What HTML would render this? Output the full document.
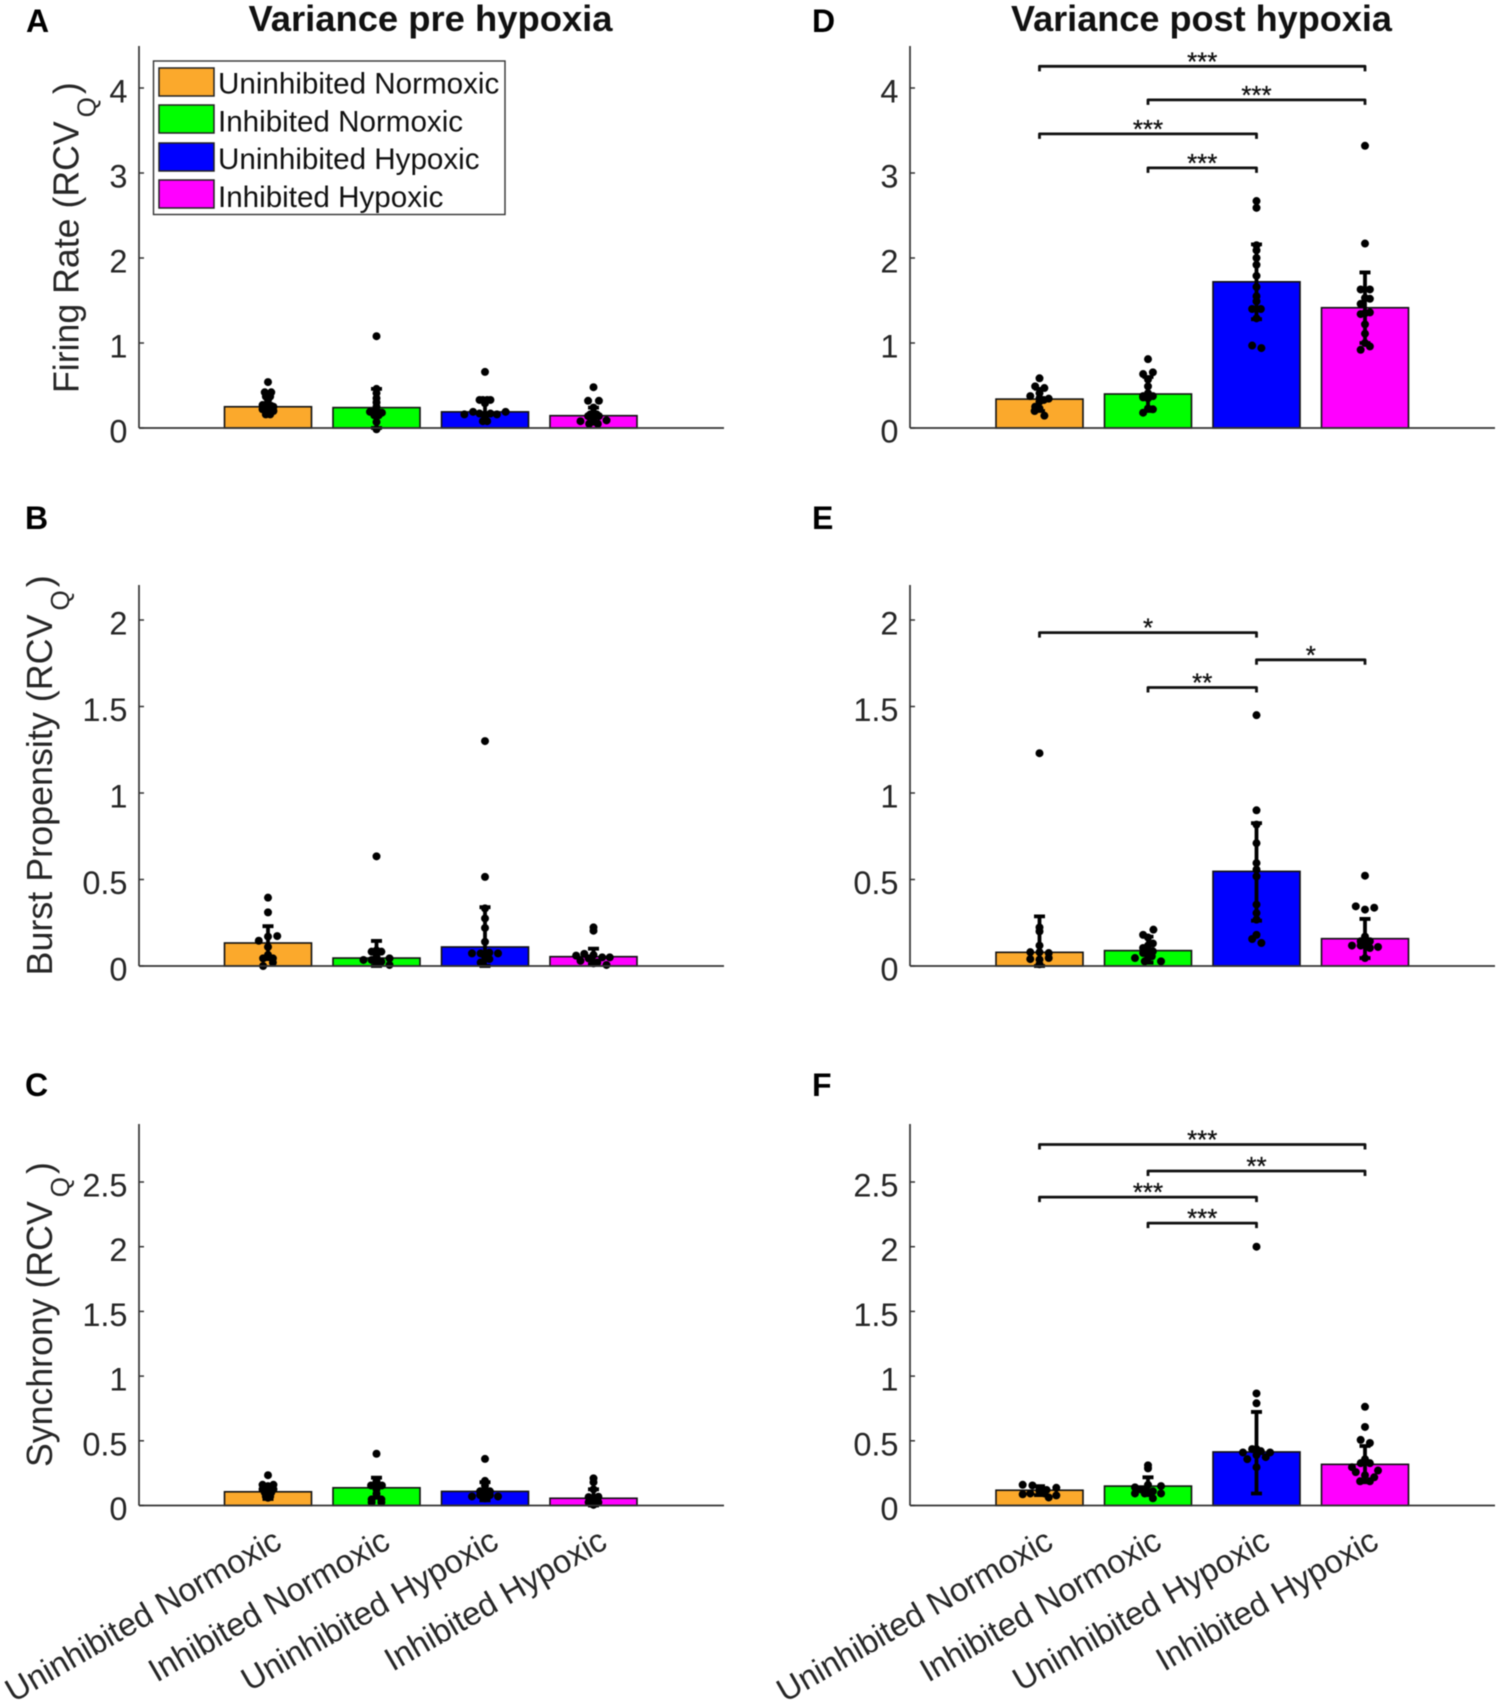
<!DOCTYPE html>
<html lang="en">
<head>
<meta charset="utf-8">
<title>Variance pre and post hypoxia</title>
<style>
html,body{margin:0;padding:0;background:#fff;}
svg{display:block;font-family:"Liberation Sans",Arial,sans-serif;filter:blur(0.4px);}
</style>
</head>
<body>
<svg id="figure" xmlns="http://www.w3.org/2000/svg" width="1500" height="1703" viewBox="0 0 1500 1703">
  <rect x="0" y="0" width="1500" height="1703" fill="#ffffff"/>
  <text x="430.5" y="31" font-size="36.4" font-weight="bold" text-anchor="middle" fill="#111">Variance pre hypoxia</text>
  <text x="1201.5" y="31" font-size="36.1" font-weight="bold" text-anchor="middle" fill="#111">Variance post hypoxia</text>
  <text x="26" y="32" font-size="32" font-weight="bold" fill="#000">A</text>
  <text x="25" y="529" font-size="32" font-weight="bold" fill="#000">B</text>
  <text x="25" y="1096" font-size="32" font-weight="bold" fill="#000">C</text>
  <text x="812" y="32" font-size="32" font-weight="bold" fill="#000">D</text>
  <text x="812" y="529" font-size="32" font-weight="bold" fill="#000">E</text>
  <text x="812" y="1096" font-size="32" font-weight="bold" fill="#000">F</text>
  <text transform="translate(78.5 393) rotate(-90)" font-size="35.7" fill="#262626">Firing Rate (RCV<tspan font-size="26" dx="4" dy="17">Q</tspan><tspan dx="3" dy="-17">)</tspan></text>
  <text transform="translate(52 975.5) rotate(-90)" font-size="35.9" fill="#262626">Burst Propensity (RCV<tspan font-size="26" dx="4" dy="17">Q</tspan><tspan dx="3" dy="-17">)</tspan></text>
  <text transform="translate(52 1467) rotate(-90)" font-size="35.7" fill="#262626">Synchrony (RCV<tspan font-size="26" dx="4" dy="17">Q</tspan><tspan dx="3" dy="-17">)</tspan></text>
  <g id="plots"></g>
  <g>
    <rect x="153.5" y="61" width="351.5" height="153.5" fill="#fff" stroke="#333" stroke-width="1.4"/>
    <rect x="159" y="68" width="55" height="28" fill="#FBA92C" stroke="#222" stroke-width="1.5"/>
    <text x="218" y="93.5" font-size="29.6" fill="#111">Uninhibited Normoxic</text>
    <rect x="159" y="105" width="55" height="28" fill="#00FF00" stroke="#222" stroke-width="1.5"/>
    <text x="218" y="131.5" font-size="29.6" fill="#111">Inhibited Normoxic</text>
    <rect x="159" y="143" width="55" height="28" fill="#0000FF" stroke="#222" stroke-width="1.5"/>
    <text x="218" y="168.8" font-size="29.6" fill="#111">Uninhibited Hypoxic</text>
    <rect x="159" y="180" width="55" height="28" fill="#FF00FF" stroke="#222" stroke-width="1.5"/>
    <text x="218" y="206.8" font-size="29.6" fill="#111">Inhibited Hypoxic</text>
  </g>
</svg>
<script>
// Shared categories
const categories = ["Uninhibited Normoxic", "Inhibited Normoxic", "Uninhibited Hypoxic", "Inhibited Hypoxic"];
const barColors = ["#FBA92C", "#00FF00", "#0000FF", "#FF00FF"];

// Y tick values
const ticksFiring = [0, 1, 2, 3, 4];
const ticksBurst = [0, 0.5, 1, 1.5, 2];
const ticksSynchrony = [0, 0.5, 1, 1.5, 2, 2.5];

// Bar heights (mean RCVQ)
const barsA = [0.25, 0.24, 0.19, 0.145];
const barsB = [0.133, 0.046, 0.11, 0.054];
const barsC = [0.106, 0.137, 0.109, 0.056];
const barsD = [0.34, 0.40, 1.72, 1.415];
const barsE = [0.079, 0.089, 0.547, 0.158];
const barsF = [0.118, 0.15, 0.414, 0.318];

// Error bar lower and upper limits
const errLowA = [0.16, 0.0, 0.08, 0.05];
const errHighA = [0.37, 0.46, 0.33, 0.24];
const errLowB = [0.04, 0.0, 0.0, 0.01];
const errHighB = [0.23, 0.145, 0.34, 0.10];
const errLowC = [0.05, 0.06, 0.04, 0.0];
const errHighC = [0.16, 0.215, 0.18, 0.125];
const errLowD = [0.2, 0.2, 1.28, 1.0];
const errHighD = [0.46, 0.6, 2.16, 1.83];
const errLowE = [0.0, 0.02, 0.262, 0.046];
const errHighE = [0.287, 0.17, 0.826, 0.272];
const errLowF = [0.08, 0.08, 0.093, 0.18];
const errHighF = [0.15, 0.218, 0.723, 0.46];

// Individual points per group: [jitter in category units, value]
const pointsA = [
  [[0,.54],[-.03,.42],[.03,.42],[-.02,.37],[.02,.37],[0,.33],[-.05,.27],[-.03,.26],[0,.27],[.03,.26],[.05,.25],[-.05,.22],[-.02,.21],[.02,.21],[.05,.2],[0,.17],[-.02,.16],[.02,.16]],
  [[0,1.08],[0,.46],[0,.41],[0,.35],[0,.3],[0,.25],[-.06,.19],[-.03,.19],[.03,.18],[.05,.18],[-.02,.15],[.02,.15],[0,.07],[0,-.015]],
  [[0,.66],[-.05,.33],[-.02,.33],[.02,.33],[.05,.33],[0,.29],[-.19,.16],[-.11,.19],[.19,.19],[.11,.16],[-.05,.17],[.05,.17],[0,.14],[-.02,.08],[.02,.08]],
  [[0,.48],[-.05,.32],[.05,.32],[0,.24],[-.05,.14],[.05,.14],[-.03,.16],[.03,.16],[0,.11],[-.12,.08],[.12,.09],[-.04,.05],[.04,.05]]
];
const pointsB = [
  [[0,.395],[0,.31],[-.085,.146],[0,.17],[.085,.173],[0,.11],[-.045,.044],[.045,.044],[0,.064],[-.045,0],[.045,.02]],
  [[0,.634],[-.045,.083],[.045,.083],[0,.09],[-.12,.035],[.12,.044],[-.045,.035],[.045,.025],[0,.015],[.12,.006],[0,.054]],
  [[0,1.3],[0,.515],[0,.333],[0,.275],[0,.22],[0,.14],[-.12,.073],[.12,.073],[-.04,.073],[.04,.077],[.04,.04],[-.04,.02],[0,.054]],
  [[0,.223],[0,.204],[-.085,.07],[-.16,.06],[.15,.05],[-.12,.03],[.08,.05],[0,.064],[.12,.006],[0,.015],[.035,.02],[-.045,.044]]
];
const pointsC = [
  [[0,.234],[-.05,.16],[.05,.16],[-.03,.14],[.03,.14],[0,.15],[-.05,.125],[.05,.125],[0,.12],[-.03,.1],[.03,.1],[0,.085],[-.02,.07],[.02,.07],[0,.06]],
  [[0,.4],[-.05,.155],[.05,.155],[0,.187],[0,.125],[0,.09],[-.045,.047],[.045,.047],[-.045,.025],[.045,.025]],
  [[0,.36],[0,.19],[0,.155],[-.045,.11],[.045,.11],[-.12,.07],[.12,.07],[-.045,.08],[.045,.08],[0,.09],[0,.055]],
  [[0,.21],[0,.18],[0,.125],[-.045,.065],[.045,.068],[0,.05],[-.045,.025],[.045,.025],[0,.005],[-.02,.015]]
];
const pointsD = [
  [[0,.585],[-.04,.49],[.045,.47],[-.085,.375],[0,.41],[.085,.345],[.04,.33],[0,.31],[-.04,.25],[0,.23],[-.045,.2],[.045,.145],[0,.35]],
  [[0,.81],[-.045,.635],[.045,.655],[0,.57],[0,.49],[-.045,.375],[.045,.375],[0,.41],[0,.35],[-.045,.36],[.045,.22],[-.045,.18],[0,.23]],
  [[0,2.67],[0,2.59],[0,2.15],[0,2.09],[0,2.0],[0,1.92],[0,1.79],[0,1.66],[0,1.55],[0,1.49],[-.04,1.4],[.04,1.4],[0,1.29],[-.04,.97],[.045,.94]],
  [[0,3.32],[0,2.17],[-.04,1.63],[.045,1.63],[.045,1.52],[-.04,1.46],[0,1.53],[-.04,1.34],[.045,1.36],[0,1.35],[0,1.22],[0,1.0],[-.04,.92],[.045,.96],[0,1.11]]
];
const pointsE = [
  [[0,1.23],[0,.223],[0,.2],[0,.118],[-.085,.08],[.085,.075],[-.085,.04],[.085,.046],[0,.037],[0,.08],[0,.01]],
  [[.05,.21],[-.045,.18],[0,.165],[.045,.13],[-.045,.104],[0,.118],[-.12,.046],[.12,.027],[.045,.085],[-.045,.075],[0,.046],[-.03,.027],[.035,.056]],
  [[0,1.45],[0,.9],[0,.817],[0,.71],[0,.595],[0,.557],[0,.518],[0,.355],[0,.306],[0,.268],[0,.18],[-.04,.156],[.045,.133]],
  [[0,.522],[-.085,.345],[.085,.337],[0,.326],[0,.17],[-.04,.143],[.045,.143],[-.12,.118],[.12,.11],[0,.133],[-.04,.118],[.045,.104],[0,.046]]
];
const pointsF = [
  [[-.155,.16],[-.065,.155],[0,.13],[.155,.137],[-.155,.087],[-.085,.093],[.045,.093],[.085,.062],[.155,.078],[0,.11],[.065,.12]],
  [[0,.31],[0,.287],[0,.16],[-.12,.14],[.12,.15],[-.12,.093],[.12,.093],[-.03,.093],[.045,.056],[-.045,.125],[.045,.11],[-.07,.125]],
  [[0,2.0],[0,.866],[0,.79],[0,.436],[-.04,.436],[-.125,.41],[.125,.41],[-.085,.358],[.085,.374],[0,.39],[0,.296],[.04,.42]],
  [[0,.763],[0,.607],[-.04,.507],[.045,.483],[0,.358],[-.04,.327],[.045,.327],[-.12,.296],[.12,.27],[-.085,.258],[.085,.218],[0,.234],[-.045,.187],[.045,.187]]
];

// Significance brackets: [from group, to group, height in data units, stars]
const bracketsD = [[0,3,4.255,"***"],[1,3,3.86,"***"],[0,2,3.46,"***"],[1,2,3.06,"***"]];
const bracketsE = [[0,2,1.927,"*"],[2,3,1.77,"*"],[1,2,1.61,"**"]];
const bracketsF = [[0,3,2.79,"***"],[1,3,2.585,"**"],[0,2,2.383,"***"],[1,2,2.182,"***"]];

// Panels: geometry plus references to the data arrays
const panels = [
  {id:"a", left:139, right:724, top:46, y0:428, unit:85, cx:268, ticks:ticksFiring, bars:barsA, low:errLowA, high:errHighA, points:pointsA, brackets:[], labels:false},
  {id:"b", left:139, right:724, top:585, y0:966, unit:173, cx:268, ticks:ticksBurst, bars:barsB, low:errLowB, high:errHighB, points:pointsB, brackets:[], labels:false},
  {id:"c", left:139, right:724, top:1124, y0:1505.5, unit:129.4, cx:268, ticks:ticksSynchrony, bars:barsC, low:errLowC, high:errHighC, points:pointsC, brackets:[], labels:true},
  {id:"d", left:910, right:1495, top:46, y0:428, unit:85, cx:1039.5, ticks:ticksFiring, bars:barsD, low:errLowD, high:errHighD, points:pointsD, brackets:bracketsD, labels:false},
  {id:"e", left:910, right:1495, top:585, y0:966, unit:173, cx:1039.5, ticks:ticksBurst, bars:barsE, low:errLowE, high:errHighE, points:pointsE, brackets:bracketsE, labels:false},
  {id:"f", left:910, right:1495, top:1124, y0:1505.5, unit:129.4, cx:1039.5, ticks:ticksSynchrony, bars:barsF, low:errLowF, high:errHighF, points:pointsF, brackets:bracketsF, labels:true}
];

const NS = "http://www.w3.org/2000/svg";
const SPACING = 108.5, BAR_W = 87, AXIS = "#333333";
const plots = document.getElementById("plots");

function make(parent, tag, props) {
  const node = document.createElementNS(NS, tag);
  for (const k in props) node.setAttribute(k, props[k]);
  parent.appendChild(node);
  return node;
}

panels.forEach(function (p) {
  const xAt = function (i) { return p.cx + i * SPACING; };
  const yAt = function (v) { return p.y0 - v * p.unit; };

  const g = make(plots, "g", {});
  
  

  // bars
  p.bars.forEach(function (v, i) {
    const bar = make(g, "rect", {x: xAt(i) - BAR_W / 2, y: yAt(v), width: BAR_W, height: p.y0 - yAt(v), fill: barColors[i], stroke: "#111", "stroke-width": 1.6});
    
    
  });

  // error bars
  p.bars.forEach(function (v, i) {
    const path = "M" + (xAt(i) - 5.5) + " " + yAt(p.high[i]) + "H" + (xAt(i) + 5.5) +
      "M" + xAt(i) + " " + yAt(p.high[i]) + "V" + yAt(p.low[i]) +
      "M" + (xAt(i) - 5.5) + " " + yAt(p.low[i]) + "H" + (xAt(i) + 5.5);
    const err = make(g, "path", {d: path, fill: "none", stroke: "#000", "stroke-width": 3.8});
    
    
  });

  // points
  p.points.forEach(function (group, i) {
    group.forEach(function (pt) {
      const dot = make(g, "circle", {cx: xAt(i + pt[0]), cy: yAt(pt[1]), r: 4, fill: "#000"});
      
      
    });
  });

  // axes
  const yAxis = make(g, "line", {x1: p.left, x2: p.left, y1: p.top, y2: p.y0, stroke: AXIS, "stroke-width": 1.7});
  
  
  const xAxis = make(g, "line", {x1: p.left, x2: p.right, y1: p.y0, y2: p.y0, stroke: AXIS, "stroke-width": 1.7});
  
  

  // y ticks
  p.ticks.forEach(function (t) {
    const tick = make(g, "line", {x1: p.left, x2: p.left + 5, y1: yAt(t), y2: yAt(t), stroke: AXIS, "stroke-width": 1.5});
    
    
    const label = make(g, "text", {x: p.left - 11.5, y: yAt(t) + 14.5, "font-size": 32.5, "text-anchor": "end", fill: "#262626"});
    label.textContent = String(t);
    
    
  });

  // significance brackets
  p.brackets.forEach(function (b) {
    const x1 = xAt(b[0]), x2 = xAt(b[1]), y = yAt(b[2]);
    const path = make(g, "path", {d: "M" + x1 + " " + (y + 5) + "V" + y + "H" + x2 + "V" + (y + 5), fill: "none", stroke: "#111", "stroke-width": 2.8, "stroke-linejoin": "round"});
    
    
    const stars = make(g, "text", {x: (x1 + x2) / 2, y: y + 4, "font-size": 26, "text-anchor": "middle", fill: "#111", stroke: "#111", "stroke-width": 0.3});
    stars.textContent = b[3];
    
    
  });

  // rotated category labels
  if (p.labels) {
    categories.forEach(function (c, i) {
      const ax = xAt(i) + 15.5, ay = p.y0 + 41.5;
      const label = make(g, "text", {transform: "translate(" + ax + " " + ay + ") rotate(-30)", "font-size": 32.8, "text-anchor": "end", fill: "#262626"});
      label.textContent = c;
      
      
    });
  }
});
</script>
</body>
</html>
